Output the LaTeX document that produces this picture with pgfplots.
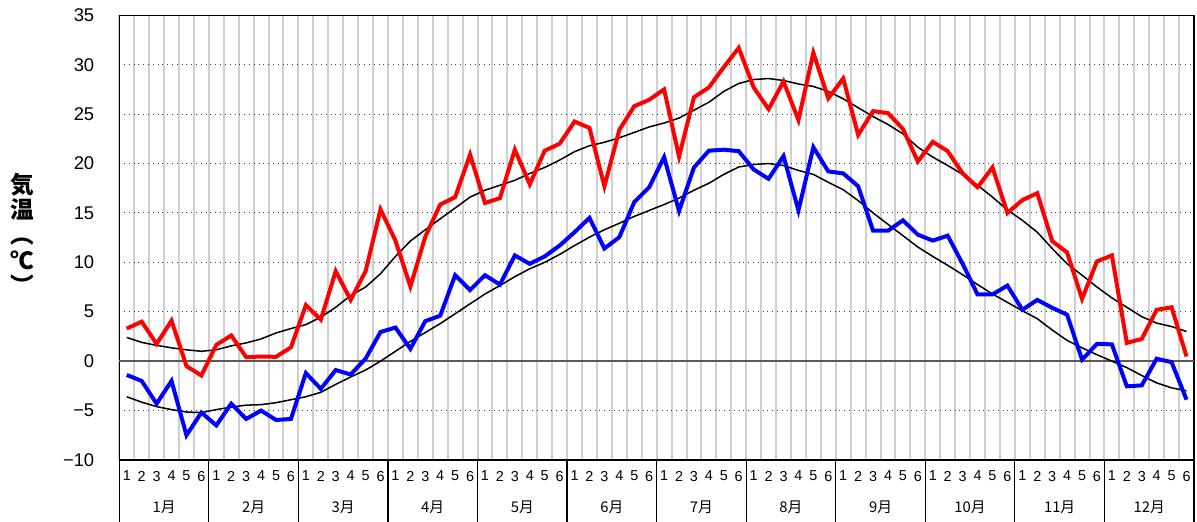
\documentclass[border=0pt]{standalone}
\usepackage{pgfplots}
\pgfplotsset{compat=1.18}
\usepackage{pgfplotstable}
\usepackage{fontspec}
\setmainfont{Liberation Sans}
\newfontfamily\cjk{Noto Sans CJK JP}

\pgfplotstableread{
x tmax tmin nmax nmin
1 3.3 -1.4 2.4 -3.6
2 4.0 -2.0 1.9 -4.15
3 1.75 -4.3 1.6 -4.6
4 4.1 -2.0 1.35 -4.9
5 -0.5 -7.5 1.15 -5.15
6 -1.45 -5.2 1.0 -5.2
7 1.65 -6.5 1.15 -4.9
8 2.6 -4.3 1.55 -4.65
9 0.4 -5.85 1.85 -4.45
10 0.47 -5.0 2.25 -4.4
11 0.44 -5.95 2.85 -4.2
12 1.4 -5.85 3.3 -3.9
13 5.67 -1.2 3.7 -3.6
14 4.2 -2.8 4.45 -3.15
15 9.1 -0.9 5.45 -2.35
16 6.2 -1.35 6.65 -1.6
17 9.1 0.25 7.5 -0.9
18 15.35 2.95 8.85 0.0
19 12.2 3.4 10.6 1.0
20 7.55 1.25 12.15 2.0
21 12.6 4.05 13.3 2.9
22 15.85 4.6 14.4 3.8
23 16.6 8.7 15.5 4.8
24 20.9 7.2 16.6 5.8
25 16.0 8.7 17.3 6.8
26 16.5 7.75 17.8 7.65
27 21.4 10.7 18.3 8.55
28 17.9 9.85 19.0 9.35
29 21.3 10.6 19.6 10.0
30 22.0 11.7 20.35 10.8
31 24.25 13.05 21.2 11.7
32 23.6 14.5 21.8 12.55
33 17.7 11.4 22.15 13.3
34 23.4 12.55 22.6 13.95
35 25.8 16.1 23.15 14.65
36 26.45 17.6 23.7 15.25
37 27.5 20.65 24.1 15.85
38 20.7 15.2 24.6 16.5
39 26.7 19.6 25.4 17.3
40 27.7 21.3 26.2 18.0
41 29.75 21.4 27.3 18.9
42 31.7 21.25 28.1 19.65
43 27.7 19.4 28.5 19.9
44 25.5 18.45 28.6 20.0
45 28.3 20.75 28.4 19.8
46 24.4 15.25 28.05 19.3
47 31.2 21.65 27.8 18.9
48 26.6 19.2 27.3 18.1
49 28.6 19.0 26.55 17.35
50 22.9 17.7 25.65 16.25
51 25.3 13.2 24.75 15.0
52 25.1 13.2 23.95 13.85
53 23.5 14.25 23.0 12.7
54 20.2 12.8 21.65 11.55
55 22.2 12.2 20.65 10.6
56 21.25 12.7 19.8 9.7
57 19.0 9.85 18.9 8.75
58 17.6 6.75 17.8 7.75
59 19.6 6.75 16.6 6.8
60 15.0 7.65 15.3 5.95
61 16.3 5.2 14.25 5.1
62 17.0 6.2 13.05 4.3
63 12.15 5.4 11.4 3.15
64 11.0 4.7 9.85 2.1
65 6.3 0.15 8.7 1.35
66 10.1 1.75 7.5 0.65
67 10.7 1.7 6.4 0.0
68 1.85 -2.55 5.45 -0.65
69 2.25 -2.45 4.5 -1.45
70 5.2 0.25 3.85 -2.2
71 5.45 -0.1 3.5 -2.7
72 0.47 -3.9 3.0 -3.0
}\data

\begin{document}
\begin{tikzpicture}
\path[use as bounding box] (-59.65pt,-31pt) rectangle (538.85pt,230pt);
\begin{axis}[
  at={(0pt,0pt)}, anchor=south west,
  scale only axis, width=537.35pt, height=222.35pt,
  xmin=0.5, xmax=72.5, ymin=-10, ymax=35,
  clip=false,
  axis line style={black, line width=0.6pt},
  tick pos=left,
  xtick={1,...,72},
  xticklabels={1,2,3,4,5,6,1,2,3,4,5,6,1,2,3,4,5,6,1,2,3,4,5,6,1,2,3,4,5,6,1,2,3,4,5,6,1,2,3,4,5,6,1,2,3,4,5,6,1,2,3,4,5,6,1,2,3,4,5,6,1,2,3,4,5,6,1,2,3,4,5,6},
  major tick length=0pt,
  minor xtick={0.5,1.5,...,72.5},
  xminorgrids=true,
  minor grid style={color=black!19, line width=1pt},
  minor tick length=0pt,
  ytick={-10,-5,...,35},
  yticklabels={−10,−5,0,5,10,15,20,25,30,35},
  ymajorgrids=true,
  major grid style={black!75, dotted, line width=0.5pt},
  yticklabel style={font=\fontsize{9.2}{10}\selectfont, xshift=-9pt},
  xticklabel style={font=\fontsize{7.2}{8}\selectfont, yshift=-2pt},
]
\draw[black!65, line width=0.9pt] (axis cs:0.5,0) -- (axis cs:72.5,0);
\pgfplotsinvokeforeach{0,...,12}{
  \draw[black, line width=0.6pt] (axis cs:{6*#1+0.5},-10) -- ++(0pt,-31pt);
}
\pgfplotsinvokeforeach{1,...,12}{
  \node[font=\cjk\fontsize{7.4}{8}\selectfont] at (axis cs:{6*#1-2.5},-10) [yshift=-23.5pt] {#1月};
}
\node[font=\cjk\bfseries\fontsize{11.8}{12.6}\selectfont, align=center] at (axis cs:0.5,12.9) [xshift=-48.5pt] {気\\温\\︵\\℃\\︶};
\addplot[black, line width=0.75pt] table[x=x, y=nmax] {\data};
\addplot[black, line width=0.75pt] table[x=x, y=nmin] {\data};
\addplot[red, line width=2pt] table[x=x, y=tmax] {\data};
\addplot[blue, line width=2pt] table[x=x, y=tmin] {\data};
\end{axis}
\end{tikzpicture}
\end{document}
